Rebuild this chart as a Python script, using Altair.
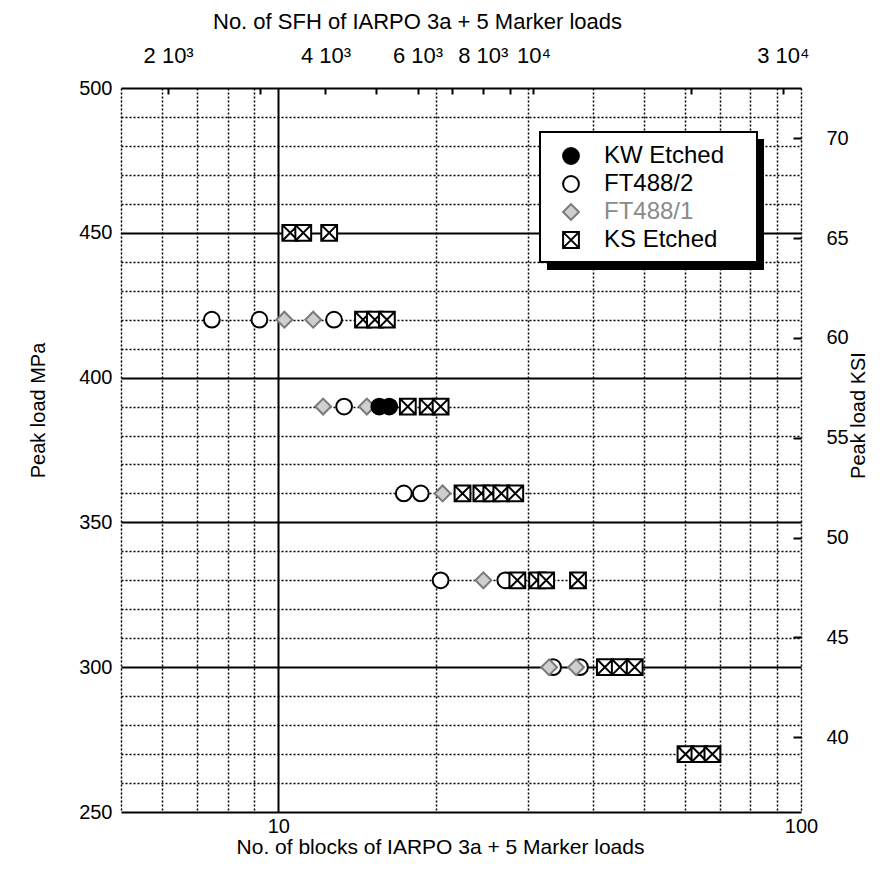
import altair as alt
import pandas as pd

SERIES = ["FT488/2", "FT488/1", "KW Etched", "KS Etched"]
LEGEND_ORDER = ["KW Etched", "FT488/2", "FT488/1", "KS Etched"]

kw_blocks = [15.6, 16.3]
kw_mpa = [390, 390]

ft2_blocks = [7.46, 9.20, 12.78, 13.36, 17.38, 18.73, 20.44, 27.18, 33.55, 37.77]
ft2_mpa = [420, 420, 420, 390, 360, 360, 330, 330, 300, 300]

ft1_blocks = [10.27, 11.66, 12.18, 14.77, 20.62, 24.68, 32.97, 37.12]
ft1_mpa = [420, 420, 390, 390, 360, 330, 300, 300]

ks_blocks = [10.54, 11.16, 12.51, 14.52, 15.30, 16.13, 17.69, 19.31, 20.44,
             22.51, 24.46, 25.56, 26.71, 28.40, 28.66, 31.27, 32.54, 37.44,
             42.14, 45.01, 48.07, 60.12, 63.93, 67.69]
ks_mpa = [450, 450, 450, 420, 420, 420, 390, 390, 390,
          360, 360, 360, 360, 360, 330, 330, 330, 330,
          300, 300, 300, 270, 270, 270]

SFH_PER_BLOCK = 325.0
MPA_TO_KSI = 0.145038

x_grid = [5, 6, 7, 8, 9, 10, 20, 30, 40, 50, 60, 70, 80, 90, 100]
y_grid = list(range(250, 501, 10))
top_ticks = [2000, 3000, 4000, 5000, 6000, 7000, 8000, 9000, 10000, 20000, 30000]
top_labels = {2000: "2 10³", 4000: "4 10³", 6000: "6 10³", 8000: "8 10³",
              10000: "10⁴", 30000: "3 10⁴"}
right_ticks = [40, 45, 50, 55, 60, 65, 70]

rows = []
for name, bx, my in [("FT488/2", ft2_blocks, ft2_mpa), ("FT488/1", ft1_blocks, ft1_mpa),
                     ("KW Etched", kw_blocks, kw_mpa), ("KS Etched", ks_blocks, ks_mpa)]:
    for b, m in zip(bx, my):
        rows.append({"series": name, "blocks": b, "mpa": m,
                     "sfh": b * SFH_PER_BLOCK, "ksi": m * MPA_TO_KSI})
df = pd.DataFrame(rows)

FONT = "Liberation Sans"
KS_PATH = "M-1,-1L1,-1L1,1L-1,1Z M-1,-1L1,1 M1,-1L-1,1"

top_expr = " : ".join(
    [f"datum.value == {k} ? '{v}'" for k, v in top_labels.items()]) + " : ''"

legend = alt.Legend(
    orient="none", legendX=419, legendY=44, title=None,
    padding=12,
    labelFont=FONT, labelFontSize=24,
    labelColor={"expr": "datum.value == 'FT488/1' ? '#8a8a8a' : 'black'"},
    symbolOffset=7, labelOffset=21, rowPadding=4, symbolStrokeWidth=2,
)

shape_scale = alt.Scale(domain=LEGEND_ORDER, range=["circle", "circle", "diamond", KS_PATH])
fill_scale = alt.Scale(domain=LEGEND_ORDER, range=["black", "white", "#cfcfcf", "white"])
stroke_scale = alt.Scale(domain=LEGEND_ORDER, range=["black", "black", "#7a7a7a", "black"])
size_scale = alt.Scale(domain=LEGEND_ORDER, range=[250, 250, 230, 200])

x_log = alt.Scale(type="log", domain=[5, 100], nice=False)
y_lin = alt.Scale(domain=[250, 500], nice=False, zero=False)

points = alt.Chart(df).mark_point(opacity=1, strokeWidth=2).encode(
    x=alt.X("blocks:Q", scale=x_log, title="No. of blocks of IARPO 3a + 5 Marker loads",
            axis=alt.Axis(orient="bottom", values=x_grid,
                          labelExpr="(datum.value == 10 || datum.value == 100) ? format(datum.value, 'd') : ''",
                          grid=True, gridColor="black",
                          gridDash={"condition": {"test": "datum.value == 10", "value": [1, 0]}, "value": [2, 2]},
                          gridWidth={"condition": {"test": "datum.value == 10", "value": 2}, "value": 1.5},
                          ticks=False, tickSize=0, domain=False, labelOverlap=False, labelFlush=False,
                          labelFont=FONT, labelFontSize=20, labelColor="black", labelPadding=4,
                          titleFont=FONT, titleFontSize=21, titleFontWeight="normal", titleColor="black",
                          titlePadding=0, titleX=319)),
    y=alt.Y("mpa:Q", scale=y_lin, title="Peak load MPa",
            axis=alt.Axis(orient="left", values=y_grid,
                          labelExpr="datum.value % 50 == 0 ? datum.label : ''",
                          grid=True, gridColor="black",
                          gridDash={"condition": {"test": "datum.value % 50 == 0", "value": [1, 0]}, "value": [2, 2]},
                          gridWidth={"condition": {"test": "datum.value % 50 == 0", "value": 2}, "value": 1.5},
                          ticks=False, tickSize=0, domain=False, labelOverlap=False, labelFlush=False,
                          labelFont=FONT, labelFontSize=20, labelColor="black", labelPadding=9,
                          titleFont=FONT, titleFontSize=20, titleFontWeight="normal", titleColor="black",
                          titlePadding=30, titleY=322)),
    shape=alt.Shape("series:N", scale=shape_scale, legend=legend),
    fill=alt.Fill("series:N", scale=fill_scale, legend=legend),
    stroke=alt.Stroke("series:N", scale=stroke_scale, legend=legend),
    size=alt.Size("series:N", scale=size_scale, legend=legend),
)

top = alt.Chart(df).mark_point(opacity=0).encode(
    x=alt.X("sfh:Q", scale=alt.Scale(type="log", domain=[5 * SFH_PER_BLOCK, 100 * SFH_PER_BLOCK], nice=False),
            title="No. of SFH of IARPO 3a + 5 Marker loads",
            axis=alt.Axis(orient="top", values=top_ticks, labelExpr=top_expr, grid=False,
                          offset=-6, tickSize=6, tickWidth=2, tickColor="black", domain=False,
                          labelOverlap=False, labelFlush=False,
                          labelFont=FONT, labelFontSize=22, labelColor="black", labelPadding=21,
                          titleFont=FONT, titleFontSize=22, titleFontWeight="normal", titleColor="black",
                          titlePadding=11, titleX=296)),
    y=alt.Y("mpa:Q", scale=y_lin, axis=None),
)

right = alt.Chart(df).mark_point(opacity=0).encode(
    x=alt.X("blocks:Q", scale=x_log, axis=None),
    y=alt.Y("ksi:Q", scale=alt.Scale(domain=[250 * MPA_TO_KSI, 500 * MPA_TO_KSI], nice=False, zero=False),
            title="Peak load KSI",
            axis=alt.Axis(orient="right", values=right_ticks, grid=False,
                          offset=-8, tickSize=8, tickWidth=2, tickColor="black", domain=False,
                          labelOverlap=False, labelFlush=False,
                          labelFont=FONT, labelFontSize=20, labelColor="black", labelPadding=25,
                          titleFont=FONT, titleFontSize=20, titleFontWeight="normal", titleColor="black",
                          titleAngle=270, titlePadding=20, titleY=327)),
)

one = pd.DataFrame({"k": [0]})
shadow = alt.Chart(one).mark_rect(color="black").encode(
    x=alt.value(426), x2=alt.value(643), y=alt.value(51), y2=alt.value(182)
)
box = alt.Chart(one).mark_rect(fill="white", stroke="black", strokeWidth=2).encode(
    x=alt.value(419), x2=alt.value(636), y=alt.value(44), y2=alt.value(174)
)

chart = alt.layer(shadow, box, points, top, right).resolve_scale(
    x="independent", y="independent"
).properties(
    width=680, height=724,
    autosize=alt.AutoSizeParams(type="none"),
    padding={"left": 113, "top": 80, "right": 79, "bottom": 60},
).configure_view(stroke="black", strokeWidth=2.5).configure(background="white")

chart.save("out.html", embed_options={"renderer": "svg", "actions": False})
